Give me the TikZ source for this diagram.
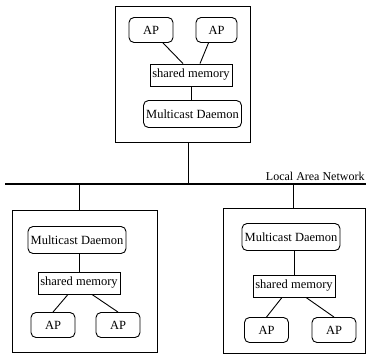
\documentclass[tikz,border=0pt]{standalone}
\usepackage{fontspec}
\setmainfont{Liberation Serif}
\usetikzlibrary{calc}
\begin{document}
\begin{tikzpicture}[x=1pt,y=-1pt,
  every node/.style={font=\fontsize{12.5}{14}\selectfont, inner sep=0pt, line width=0.9pt},
  hostbox/.style={draw, rectangle},
  apbox/.style={draw, rounded corners=5pt, minimum width=44pt, minimum height=25pt},
  smbox/.style={draw, minimum width=82pt, minimum height=22pt},
  mdbox/.style={draw, rounded corners=5pt, minimum width=98pt, minimum height=27pt},
  link/.style={line width=0.9pt},
  lanline/.style={line width=1.6pt}]
\useasboundingbox (0,0) rectangle (366,354);
% top host
\node[hostbox, minimum width=135pt, minimum height=136pt] (h1) at (182.5,74) {};
\node[apbox] (a1) at (151,30) {AP};
\node[apbox, minimum width=41pt] (a2) at (216.5,30) {AP};
\node[smbox] (s1) at (191,75) {shared memory};
\node[mdbox] (m1) at (192.5,114) {Multicast Daemon};
\draw[link] (a1.south) ++(12,0) -- ($(s1.north)+(-8,0)$);
\draw[link] ($(a2.south)+(-8,0)$) -- ($(s1.north)+(9,0)$);
\draw[link] (s1.south) -- (s1.south |- m1.north);
% LAN
\coordinate (lanL) at (5,184);
\coordinate (lanR) at (366,184);
\draw[lanline] (lanL) -- (lanR);
\node[anchor=base east, font=\fontsize{12}{14}\selectfont] (lanlabel) at (365,180) {Local Area Network};
\coordinate (t1) at (188,184);
\coordinate (t2) at (79,184);
\coordinate (t3) at (293,184);
\draw[link] (t1 |- h1.south) -- (t1);
% bottom-left host
\node[hostbox, minimum width=145pt, minimum height=142pt] (h2) at (84.5,281) {};
\draw[link] (t2) -- (t2 |- h2.north);
\node[mdbox] (m2) at (77,240) {Multicast Daemon};
\node[smbox] (s2) at (79,283) {shared memory};
\node[apbox] (a3) at (53,325) {AP};
\node[apbox] (a4) at (118,325) {AP};
\draw[link] (m2.south -| s2.north) -- (s2.north);
\draw[link] ($(s2.south)+(-11,0)$) -- (a3.north);
\draw[link] ($(s2.south)+(13,0)$) -- (a4.north);
% bottom-right host
\node[hostbox, minimum width=142pt, minimum height=145pt] (h3) at (294,280.5) {};
\draw[link] (t3) -- (t3 |- h3.north);
\node[mdbox] (m3) at (291,237) {Multicast Daemon};
\node[smbox] (s3) at (294,286) {shared memory};
\node[apbox] (a5) at (266.5,330) {AP};
\node[apbox] (a6) at (334,330) {AP};
\draw[link] (m3.south -| s3.north) -- (s3.north);
\draw[link] ($(s3.south)+(-12,0)$) -- (a5.north);
\draw[link] ($(s3.south)+(12,0)$) -- (a6.north);
\end{tikzpicture}
\end{document}
